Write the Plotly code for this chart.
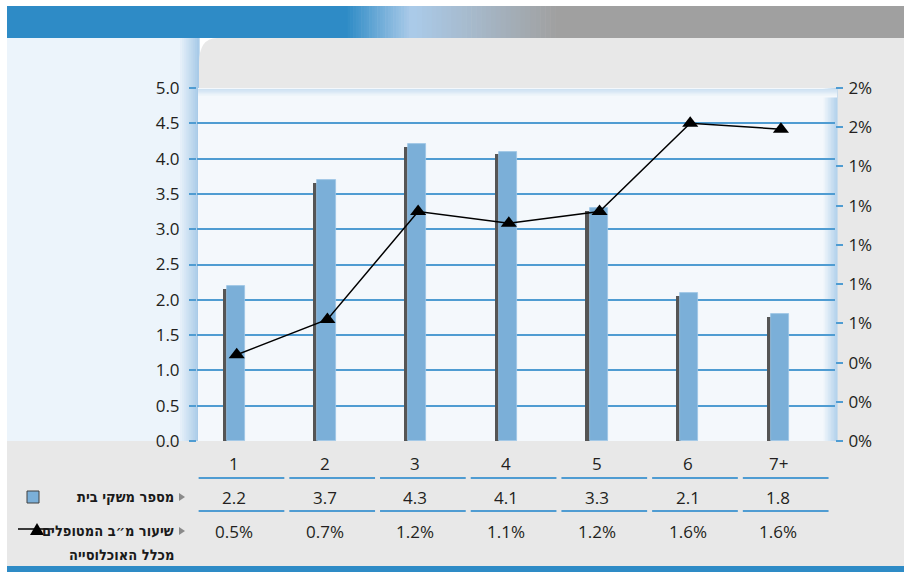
import plotly.graph_objects as go

# ---------------- data ----------------
categories = ["1", "2", "3", "4", "5", "6", "7+"]
households = [2.2, 3.7, 4.2, 4.1, 3.3, 2.1, 1.8]            # bars (left axis)
households_labels = ["2.2", "3.7", "4.3", "4.1", "3.3", "2.1", "1.8"]
treated_rate = [0.0044, 0.0062, 0.0117, 0.0111, 0.0117, 0.0162, 0.0159]  # line (right axis)
treated_labels = ["0.5%", "0.7%", "1.2%", "1.1%", "1.2%", "1.6%", "1.6%"]
legend_bar = "מספר משקי בית"
legend_line_1 = "שיעור מ״ב המטופלים"
legend_line_2 = "מכלל האוכלוסייה"

W, H = 904, 572
FONT = "Open Sans, Noto Sans, DejaVu Sans, sans-serif"
HEB_FONT = "DejaVu Sans Condensed, Liberation Sans, sans-serif"
BLUE = "#7BAFD8"
DARK = "#555555"
GRID = "#4F9CD2"
TXT = "#231F20"


def px(x):
    return x / W


def py(y):
    return 1 - y / H


def hexmix(c1, c2, t):
    a = [int(c1[i:i + 2], 16) for i in (1, 3, 5)]
    b = [int(c2[i:i + 2], 16) for i in (1, 3, 5)]
    return "#" + "".join(f"{round(a[k] + (b[k] - a[k]) * t):02x}" for k in range(3))


shapes = []


def rect(x0, y0, x1, y1, color):
    shapes.append(dict(type="rect", xref="paper", yref="paper", x0=px(x0), x1=px(x1),
                       y0=py(y1), y1=py(y0), fillcolor=color, line=dict(width=0), layer="below"))


def hgrad(x0, x1, y0, y1, c0, c1, n):
    step = (x1 - x0) / n
    for k in range(n):
        rect(x0 + k * step, y0, x0 + (k + 1) * step + 0.6, y1, hexmix(c0, c1, k / max(n - 1, 1)))


def vgrad(x0, x1, y0, y1, c0, c1, n):
    step = (y1 - y0) / n
    for k in range(n):
        rect(x0, y0 + k * step, x1, y0 + (k + 1) * step + 0.6, hexmix(c0, c1, k / max(n - 1, 1)))


# left light-blue panel + gradient strip
rect(7, 38, 200, 441, "#ECF4FB")
hgrad(178, 199, 38, 441, "#ECF4FB", "#A9CBE8", 10)
# gray panel with rounded top-left corner
shapes.append(dict(type="path", xref="paper", yref="paper",
                   path=f"M {px(199)},{py(441)} L {px(199)},{py(64)} Q {px(199)},{py(38)} {px(217)},{py(38)} "
                        f"L {px(904)},{py(38)} L {px(904)},{py(441)} Z",
                   fillcolor="#E8E8E8", line=dict(width=0), layer="below"))
rect(7, 441, 904, 566, "#E8E8E8")
# plot background with shading
rect(198, 88, 837, 441, "#F4F8FC")
hgrad(822, 837, 88, 441, "#F4F8FC", "#B5D3EC", 10)
vgrad(198, 837, 89, 97, "#CFE2F2", "#F4F8FC", 6)
# top banner
rect(7, 6, 345, 38, "#2E8BC6")
hgrad(345, 412, 6, 38, "#2E8BC6", "#AACAE8", 25)
hgrad(412, 560, 6, 38, "#AACAE8", "#A0A0A0", 30)
rect(560, 6, 904, 38, "#A0A0A0")
# bottom strip
rect(7, 566, 904, 572, "#2E8BC6")

# table separator lines
for i in range(len(categories)):
    for yy in (478, 511):
        shapes.append(dict(type="line", xref="x", yref="paper", x0=i - 0.39, x1=i + 0.555,
                           y0=py(yy), y1=py(yy), line=dict(color=GRID, width=2)))

# legend marks
shapes.append(dict(type="rect", xref="paper", yref="paper", x0=px(27), x1=px(39), y0=py(503), y1=py(491),
                   fillcolor=BLUE, line=dict(color="#404040", width=1)))
shapes.append(dict(type="line", xref="paper", yref="paper", x0=px(18), x1=px(52), y0=py(529), y1=py(529),
                   line=dict(color="black", width=1.5)))
shapes.append(dict(type="path", xref="paper", yref="paper",
                   path=f"M {px(30)},{py(535)} L {px(44)},{py(535)} L {px(37)},{py(523)} Z",
                   fillcolor="black", line=dict(width=0)))
for yy in (497, 531):
    shapes.append(dict(type="path", xref="paper", yref="paper",
                       path=f"M {px(179)},{py(yy - 4)} L {px(179)},{py(yy + 4)} L {px(185)},{py(yy)} Z",
                       fillcolor="#8A8A8A", line=dict(width=0)))

xs = list(range(len(categories)))
fig = go.Figure()
fig.add_trace(go.Bar(x=xs, y=[v - 0.04 for v in households], offset=-0.125, width=0.048,
                     marker=dict(color=DARK, line=dict(width=0)), hoverinfo="skip", showlegend=False))
fig.add_trace(go.Bar(x=xs, y=households, offset=-0.08, width=0.2, name=legend_bar,
                     marker=dict(color=BLUE, line=dict(color="#9CC4E6", width=0.8)), showlegend=False))
fig.add_trace(go.Scatter(x=[i + 0.03 for i in xs], y=treated_rate, yaxis="y2", mode="lines+markers",
                         name=legend_line_1, line=dict(color="black", width=1.5),
                         marker=dict(symbol="triangle-up", size=14, color="black"), showlegend=False))

annotations = []
rows = [(463, categories), (497, households_labels), (531, treated_labels)]
for yy, labels in rows:
    for i, t in enumerate(labels):
        annotations.append(dict(x=i, y=py(yy), xref="x", yref="paper", text=t, showarrow=False,
                                xanchor="center", yanchor="middle", font=dict(size=17, color=TXT, family=FONT)))
for yy, t in ((497, legend_bar), (531, legend_line_1), (555, legend_line_2)):
    annotations.append(dict(x=px(176), y=py(yy), xref="paper", yref="paper", text=f"<b>{t}</b>",
                            showarrow=False, xanchor="right", yanchor="middle", align="right",
                            font=dict(size=14.5, color="#1A1A1A", family=HEB_FONT)))

fig.update_layout(
    template="none",
    width=W, height=H, margin=dict(l=0, r=0, t=0, b=0, pad=0, autoexpand=False),
    paper_bgcolor="white", plot_bgcolor="rgba(0,0,0,0)",
    barmode="overlay", bargap=0, showlegend=False,
    font=dict(family=FONT, color=TXT, size=17),
    xaxis=dict(domain=[px(197), px(835)], range=[(197 - 234) / 90.7, (835 - 234) / 90.7],
               showgrid=False, zeroline=False, showticklabels=False, ticks="", showline=False,
               automargin=False),
    yaxis=dict(domain=[py(441), py(88)], range=[0, 5], dtick=0.5, tick0=0, tickformat=".1f",
               showgrid=True, gridcolor=GRID, gridwidth=2, zeroline=False, showline=False,
               ticks="outside", ticklen=7, tickwidth=2, tickcolor=GRID, ticklabelstandoff=6,
               automargin=False, tickfont=dict(size=17, color=TXT, family=FONT)),
    yaxis2=dict(overlaying="y", side="right", anchor="x", range=[0, 0.018], dtick=0.002, tick0=0,
                tickformat=".0%", showgrid=False, zeroline=False, showline=False,
                ticks="outside", ticklen=7, tickwidth=2, tickcolor=GRID, ticklabelstandoff=2,
                automargin=False, tickfont=dict(size=17, color=TXT, family=FONT)),
    shapes=shapes, annotations=annotations,
)

fig.write_html("out.html")
